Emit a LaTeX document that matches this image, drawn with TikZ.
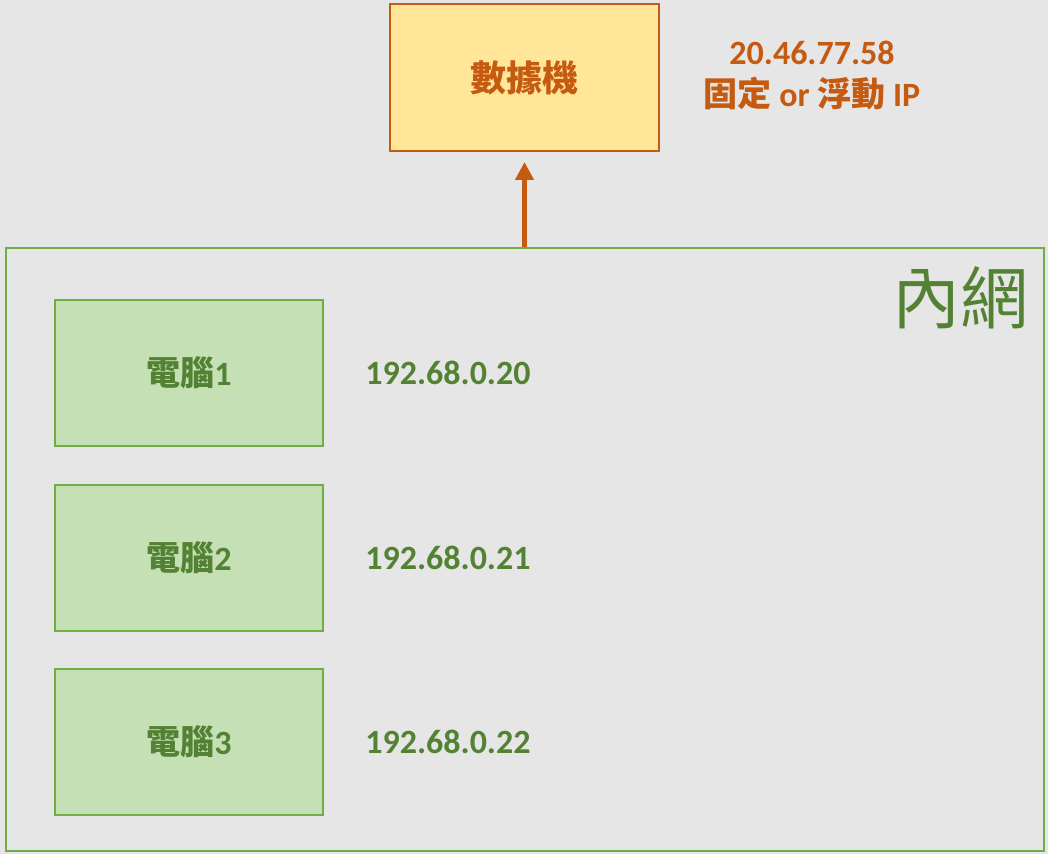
\documentclass[tikz,border=0pt]{standalone}
\usepackage{fontspec}
\setmainfont{Carlito}
\newfontfamily\cjk{Noto Sans CJK TC}
\usetikzlibrary{arrows.meta}
\definecolor{bg}{HTML}{E7E6E6}
\definecolor{org}{HTML}{C55A11}
\definecolor{yel}{HTML}{FFE699}
\definecolor{grn}{HTML}{70AD47}
\definecolor{dgrn}{HTML}{548235}
\definecolor{lgrn}{HTML}{C5E0B4}
\tikzset{
 pc/.style={draw=grn,fill=lgrn,line width=1pt,minimum width=134pt,minimum height=73pt,text=dgrn,font=\fontsize{17}{20}\selectfont\bfseries,inner sep=0pt},
 ip/.style={anchor=west,text=dgrn,font=\fontsize{17}{20}\selectfont\bfseries,inner sep=0pt},
}
\begin{document}
\begin{tikzpicture}[x=0.5pt,y=-0.5pt]
\fill[bg] (0,0) rectangle (1048,854);
\node[draw=org,fill=yel,line width=1pt,minimum width=134.5pt,minimum height=73.5pt,text=org,font=\fontsize{18}{22}\selectfont\cjk\bfseries,inner sep=0pt] (modem) at (524.5,77.5) {數據機};
\node[text=org,font=\fontsize{17}{20}\selectfont\bfseries,align=center] (wan) at (812,76) {20.46.77.58\\[1pt]{\cjk 固定} or {\cjk 浮動} IP};
\node[draw=grn,line width=1pt,minimum width=519pt,minimum height=301.5pt,inner sep=0pt] (lan) at (525,549.5) {};
\node[text=dgrn,font=\fontsize{34}{40}\selectfont\cjk,inner sep=0pt] (lanlbl) at (960,298) {內網};
\coordinate (src) at (lan.north -| modem.south);
\draw[org,line width=2.2pt,-{Triangle[length=9pt,width=9pt]},shorten >=5pt] (src) -- (modem.south);
\node[pc] (pc1) at (189,373) {{\cjk 電腦}1};
\node[pc] (pc2) at (189,558) {{\cjk 電腦}2};
\node[pc] (pc3) at (189,742) {{\cjk 電腦}3};
\node[ip] (ip1) at (365,373) {192.68.0.20};
\node[ip] (ip2) at (365,558) {192.68.0.21};
\node[ip] (ip3) at (365,742) {192.68.0.22};
\end{tikzpicture}
\end{document}
